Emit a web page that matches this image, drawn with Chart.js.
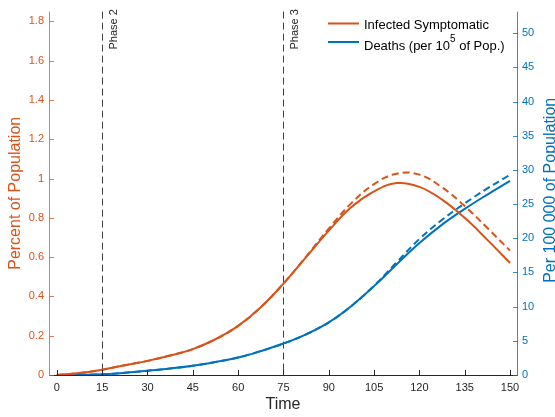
<!DOCTYPE html>
<html>
<head>
<meta charset="utf-8">
<script src="https://cdn.jsdelivr.net/npm/chart.js@4.4.1/dist/chart.umd.min.js"></script>
<style>
body { margin: 0; background: #fff; }
#wrap { width: 555px; height: 417px; }
</style>
</head>
<body>
<div id="wrap"><canvas id="c1" width="555" height="417"></canvas></div>
<script>
// values
let time = [0, 7.5, 15, 22.5, 30, 37.5, 45, 52.5, 60, 67.5, 75, 82.5, 90, 97.5, 105, 112.5, 120, 127.5, 135, 142.5, 150];
let infected     = [0, 0.01, 0.027, 0.05, 0.072, 0.099, 0.132, 0.182, 0.25, 0.345, 0.465, 0.6, 0.735, 0.855, 0.935, 0.977, 0.958, 0.893, 0.8, 0.688, 0.57];
let infectedDash = [0, 0.01, 0.027, 0.05, 0.072, 0.099, 0.132, 0.182, 0.25, 0.345, 0.465, 0.603, 0.745, 0.875, 0.972, 1.025, 1.02, 0.955, 0.86, 0.748, 0.633];
let deaths       = [0, 0.02, 0.1, 0.33, 0.62, 0.95, 1.35, 1.9, 2.55, 3.5, 4.6, 5.95, 7.7, 10.1, 13.0, 16.2, 19.3, 22.0, 24.3, 26.4, 28.4];
let deathsDash   = [0, 0.02, 0.1, 0.33, 0.62, 0.95, 1.35, 1.9, 2.55, 3.5, 4.6, 5.95, 7.7, 10.1, 13.05, 16.5, 19.9, 22.7, 25.1, 27.3, 29.3];

let timeTicks = [0, 15, 30, 45, 60, 75, 90, 105, 120, 135, 150];
let pctTicks = [0, 0.2, 0.4, 0.6, 0.8, 1, 1.2, 1.4, 1.6, 1.8];
let perTicks = [0, 5, 10, 15, 20, 25, 30, 35, 40, 45, 50];

let phases = [15, 75];
let phaseNames = ['Phase 2', 'Phase 3'];

const ORANGE = '#D95319';
const BLUE = '#0072BD';
const INK = '#262626';
const FONT = '"Liberation Sans", Arial, Helvetica, sans-serif';

function pts(ys) {
    return time.map((t, i) => ({ x: t, y: ys[i] }));
}

function setTicks(arr) {
    return function (s) { s.ticks = arr.map(v => ({ value: v })); };
}

function plainNum(v) {
    return String(+Number(v).toFixed(3));
}

// phase lines, axes with inward ticks, legend, right title
const decor = {
    id: 'decor',
    beforeDatasetsDraw(chart) {
        let ctx = chart.ctx;
        let a = chart.chartArea;
        let xs = chart.scales.x;
        ctx.save();
        ctx.strokeStyle = '#404040';
        ctx.lineWidth = 1;
        ctx.setLineDash([7, 4]);
        phases.forEach(p => {
            let px = Math.round(xs.getPixelForValue(p)) + 0.5;
            ctx.beginPath();
            ctx.moveTo(px, a.top);
            ctx.lineTo(px, a.bottom);
            ctx.stroke();
        });
        ctx.setLineDash([]);
        ctx.fillStyle = INK;
        ctx.font = '11px ' + FONT;
        ctx.textAlign = 'left';
        ctx.textBaseline = 'alphabetic';
        phases.forEach((p, i) => {
            let px = xs.getPixelForValue(p);
            ctx.save();
            ctx.translate(px + 14.5, 49.5);
            ctx.rotate(-Math.PI / 2);
            ctx.fillText(phaseNames[i], 0, 0);
            ctx.restore();
        });
        ctx.restore();
    },
    afterDraw(chart) {
        let ctx = chart.ctx;
        let a = chart.chartArea;
        let xs = chart.scales.x;
        let yl = chart.scales.yL;
        let yr = chart.scales.yR;
        ctx.save();
        ctx.lineWidth = 1;

        // bottom axis
        ctx.strokeStyle = INK;
        ctx.beginPath();
        ctx.moveTo(a.left, a.bottom + 0.5);
        ctx.lineTo(a.right, a.bottom + 0.5);
        timeTicks.forEach(v => {
            let px = Math.round(xs.getPixelForValue(v)) + 0.5;
            ctx.moveTo(px, a.bottom);
            ctx.lineTo(px, a.bottom - 5);
        });
        ctx.stroke();

        // left axis
        ctx.strokeStyle = 'rgba(217,83,25,0.75)';
        ctx.beginPath();
        ctx.moveTo(a.left + 0.5, a.top);
        ctx.lineTo(a.left + 0.5, a.bottom + 1);
        pctTicks.forEach(v => {
            let py = Math.round(yl.getPixelForValue(v)) + 0.5;
            ctx.moveTo(a.left, py);
            ctx.lineTo(a.left + 5, py);
        });
        ctx.stroke();

        // right axis
        ctx.strokeStyle = 'rgba(0,114,189,0.8)';
        ctx.beginPath();
        ctx.moveTo(a.right + 0.5, a.top);
        ctx.lineTo(a.right + 0.5, a.bottom + 1);
        perTicks.forEach(v => {
            let py = Math.round(yr.getPixelForValue(v)) + 0.5;
            ctx.moveTo(a.right + 1, py);
            ctx.lineTo(a.right - 4, py);
        });
        ctx.stroke();

        // right title, reading upwards
        ctx.fillStyle = BLUE;
        ctx.font = '16px ' + FONT;
        ctx.textAlign = 'center';
        ctx.textBaseline = 'alphabetic';
        ctx.save();
        ctx.translate(555, (a.top + a.bottom) / 2 - 3);
        ctx.rotate(-Math.PI / 2);
        ctx.fillText('Per 100 000 of Population', 0, 0);
        ctx.restore();

        // legend
        let rows = [
            { ds: chart.data.datasets[0], ly: 23.5, ty: 25 },
            { ds: chart.data.datasets[2], ly: 42, ty: 46 },
        ];
        ctx.lineWidth = 2;
        ctx.textAlign = 'left';
        ctx.textBaseline = 'middle';
        ctx.fillStyle = '#000';
        rows.forEach(r => {
            ctx.strokeStyle = r.ds.borderColor;
            ctx.beginPath();
            ctx.moveTo(328, r.ly);
            ctx.lineTo(359, r.ly);
            ctx.stroke();
            let parts = r.ds.label.split('^');
            let x = 364;
            ctx.font = '13px ' + FONT;
            ctx.fillText(parts[0], x, r.ty);
            x += ctx.measureText(parts[0]).width;
            if (parts.length > 1) {
                let sup = parts[1].slice(0, 1);
                let rest = parts[1].slice(1);
                ctx.font = '10px ' + FONT;
                ctx.fillText(sup, x, r.ty - 7);
                x += ctx.measureText(sup).width;
                ctx.font = '13px ' + FONT;
                ctx.fillText(rest, x, r.ty);
            }
        });
        ctx.restore();
    }
};

let c1 = document.querySelector('#c1');
let opts = {
    type: 'line',
    data: {
        datasets: [
            { label: 'Infected Symptomatic', data: pts(infected), yAxisID: 'yL', borderColor: ORANGE, borderWidth: 2 },
            { label: 'Infected Symptomatic (dashed)', data: pts(infectedDash), yAxisID: 'yL', borderColor: ORANGE, borderWidth: 2, borderDash: [7, 4] },
            { label: 'Deaths (per 10^5 of Pop.)', data: pts(deaths), yAxisID: 'yR', borderColor: BLUE, borderWidth: 2 },
            { label: 'Deaths (dashed)', data: pts(deathsDash), yAxisID: 'yR', borderColor: BLUE, borderWidth: 2, borderDash: [7, 4] },
        ]
    },
    options: {
        responsive: false,
        animation: false,
        layout: { padding: { top: 5, left: 0, right: 0, bottom: 0 } },
        elements: {
            point: { radius: 0 },
            line: { tension: 0.4, fill: false },
        },
        plugins: {
            legend: { display: false },
            tooltip: { enabled: false },
        },
        scales: {
            x: {
                type: 'linear',
                position: 'bottom',
                min: -2.6,
                max: 152.3,
                afterBuildTicks: setTicks(timeTicks),
                afterFit(s) { s.height = 42; },
                grid: { display: false, drawTicks: false },
                border: { display: false },
                ticks: { color: INK, font: { size: 11, family: FONT }, padding: 6, autoSkip: false, maxRotation: 0, callback: plainNum },
                title: { display: true, text: 'Time', color: INK, font: { size: 16, family: FONT }, padding: { top: 0, bottom: 3 } },
            },
            yL: {
                type: 'linear',
                position: 'left',
                min: 0,
                max: 1.85,
                afterBuildTicks: setTicks(pctTicks),
                afterFit(s) { s.width = 49; },
                grid: { display: false, drawTicks: false },
                border: { display: false },
                ticks: { color: ORANGE, font: { size: 11, family: FONT }, padding: 5, callback: plainNum },
                title: { display: true, text: 'Percent of Population', color: ORANGE, font: { size: 16, family: FONT }, padding: { top: 6, bottom: 0 } },
            },
            yR: {
                type: 'linear',
                position: 'right',
                min: 0,
                max: 53.16,
                afterBuildTicks: setTicks(perTicks),
                afterFit(s) { s.width = 38; },
                grid: { display: false, drawTicks: false },
                border: { display: false },
                ticks: { color: BLUE, font: { size: 11, family: FONT }, padding: 5, callback: plainNum },
            },
        }
    },
    plugins: [decor],
};
let chart1 = new Chart(c1, opts);
</script>
</body>
</html>
